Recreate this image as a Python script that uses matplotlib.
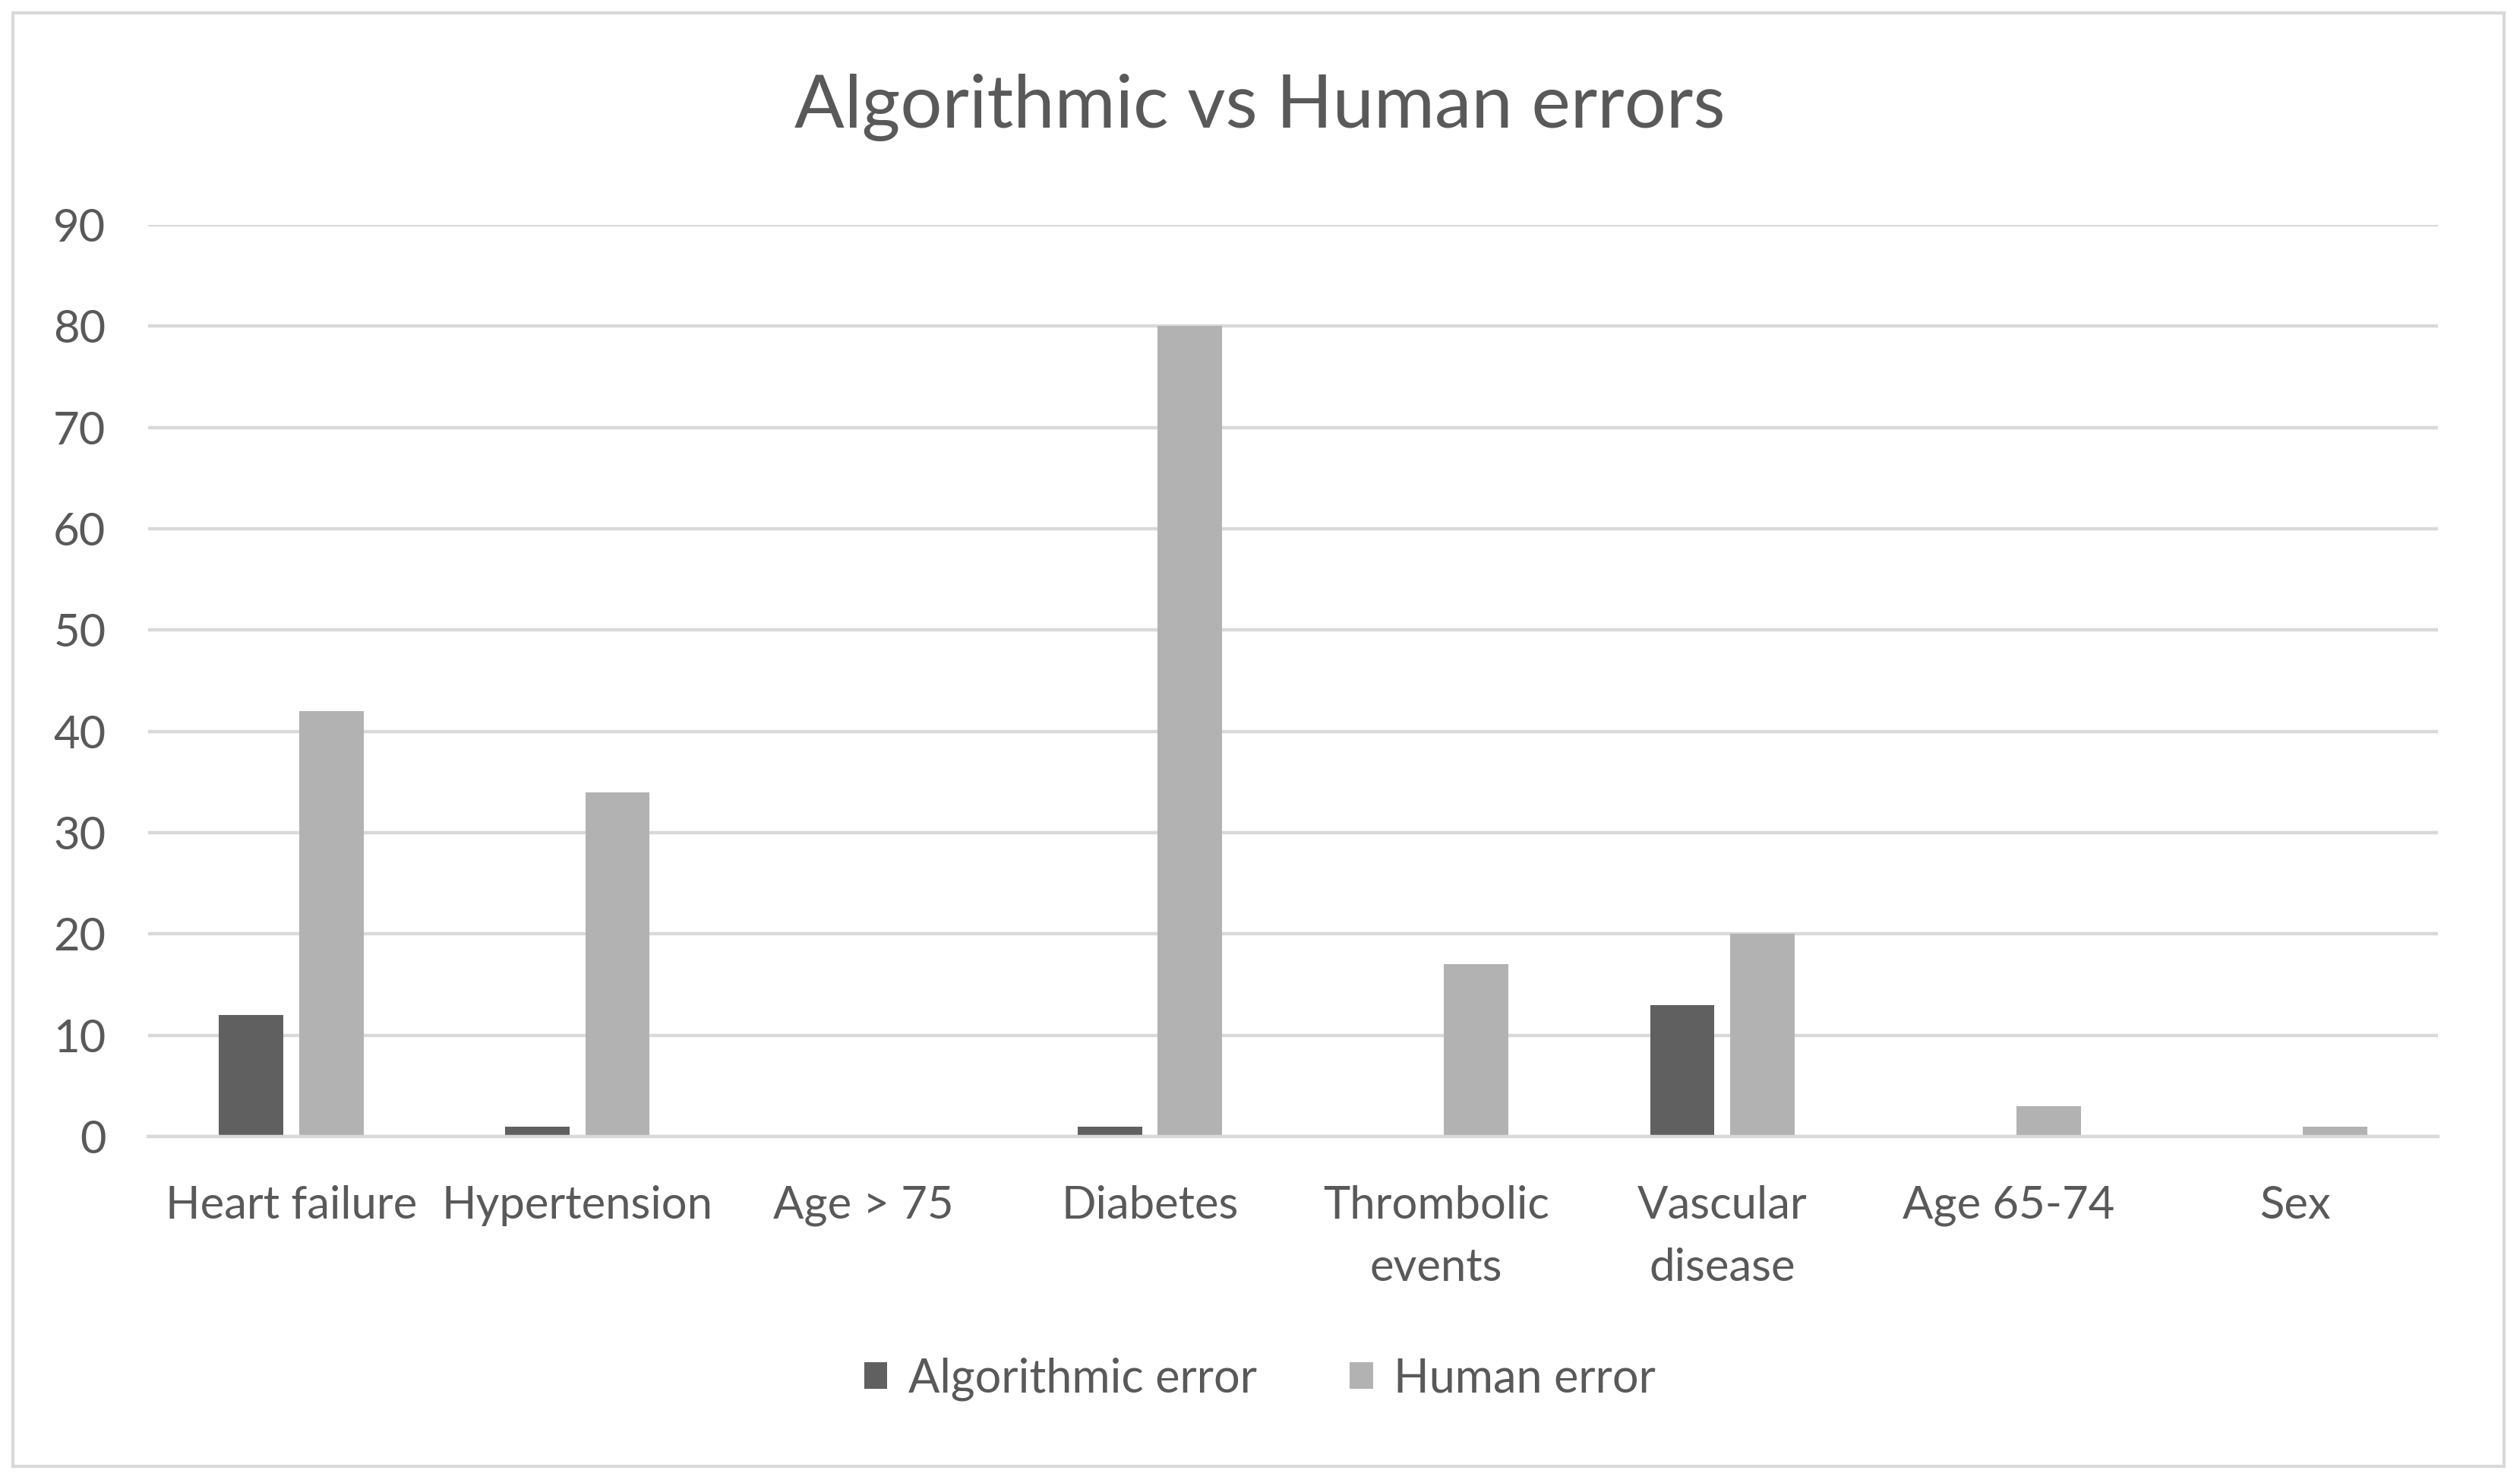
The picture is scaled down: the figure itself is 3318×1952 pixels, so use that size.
import numpy as np
import matplotlib.pyplot as plt
from matplotlib.patches import Rectangle

# ============================================================
# DATA
# ============================================================
categories = ["Heart failure", "Hypertension", "Age > 75", "Diabetes",
              "Thrombolic\nevents", "Vascular\ndisease", "Age 65-74", "Sex"]
algorithmic_error = [12, 1, 0, 1, 0, 13, 0, 0]
human_error = [42, 34, 0, 80, 17, 20, 3, 1]
y_ticks = [0, 10, 20, 30, 40, 50, 60, 70, 80, 90]

# ============================================================
# STYLE
# ============================================================
plt.rcParams['font.family'] = ['Lato', 'DejaVu Sans']
text_col = "#595959"
grid_col = "#d9d9d9"
dark = "#606060"
light = "#b2b2b2"

W, H, DPI = 3318, 1952, 200
fig = plt.figure(figsize=(W / DPI, H / DPI), dpi=DPI)
fig.patch.set_facecolor("white")

# outer chart border
fig.patches.append(Rectangle((17 / W, 1 - 1930 / H), (3297 - 17) / W, (1930 - 17) / H,
                             transform=fig.transFigure, fill=False,
                             edgecolor=grid_col, linewidth=1.5))

ax = fig.add_axes([195 / W, 1 - 1496 / H, (3210 - 195) / W, (1496 - 296) / H])

x = np.arange(len(categories))
bw = 0.225
off = 0.14
ax.bar(x - off, algorithmic_error, bw, color=dark, label="Algorithmic error", zorder=3)
ax.bar(x + off, human_error, bw, color=light, label="Human error", zorder=3)

ax.set_xlim(-0.5, len(categories) - 0.5)
ax.set_ylim(0, 90)
ax.set_yticks(y_ticks)
ax.set_xticks(x)
ax.set_xticklabels(categories, linespacing=1.65)

ax.grid(axis="y", color=grid_col, linewidth=1.6, zorder=0)
ax.set_axisbelow(True)
for s in ["top", "right", "left"]:
    ax.spines[s].set_visible(False)
ax.spines["bottom"].set_color(grid_col)
ax.spines["bottom"].set_linewidth(1.6)
ax.spines["bottom"].set_zorder(4)

ax.tick_params(axis="y", length=0, pad=20, labelsize=21.5, labelcolor=text_col)
ax.tick_params(axis="x", length=0, pad=23, labelsize=21.5, labelcolor=text_col)

fig.text(0.5, 1 - 142 / H, "Algorithmic vs Human errors", ha="center", va="center",
         fontsize=35, color=text_col)

leg = fig.legend(loc="center", bbox_to_anchor=(0.5, 1 - 1815 / H), ncol=2, frameon=False,
                 fontsize=22, handlelength=0.5, handleheight=0.5, handletextpad=0.45,
                 columnspacing=2.0)
for t in leg.get_texts():
    t.set_color(text_col)

fig.savefig("out.png", dpi=DPI, facecolor="white")
